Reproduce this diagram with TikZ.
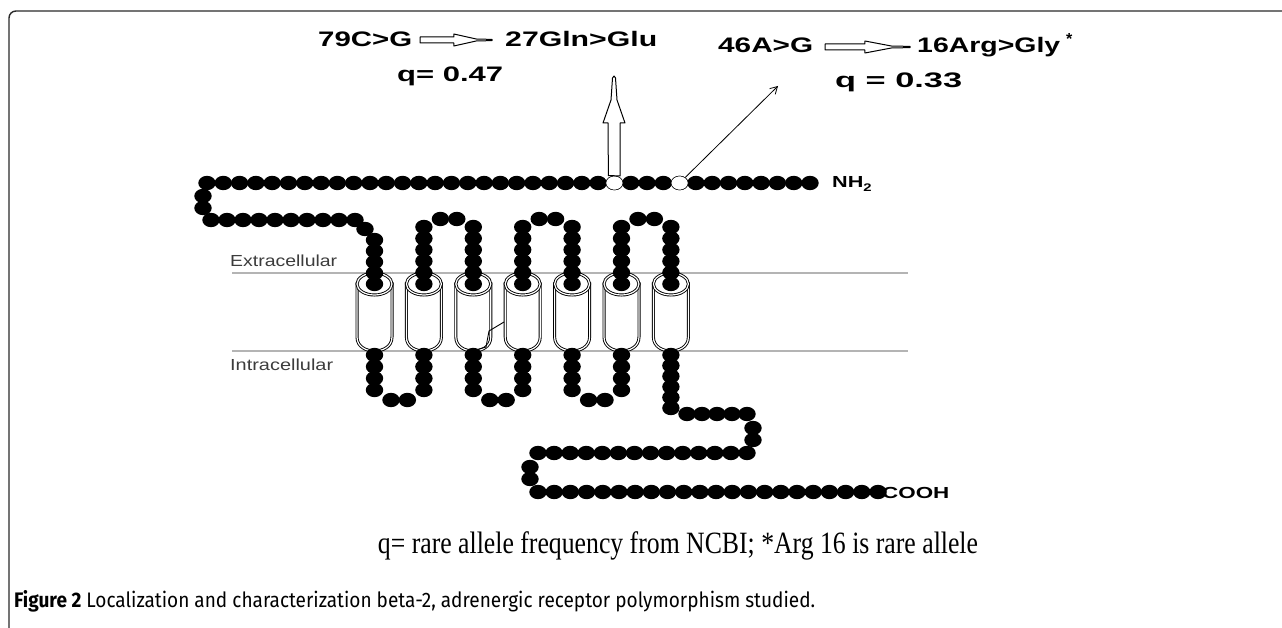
\documentclass[tikz,border=0pt]{standalone}
\usepackage{fontspec}
\setmainfont{Liberation Serif}
\setsansfont{Liberation Sans}
\newfontfamily\capfont{Fira Sans}
\usetikzlibrary{shapes.geometric,arrows.meta}
\definecolor{memgray}{HTML}{B4B4B4}
\definecolor{labgray}{HTML}{3C3C3C}
\definecolor{framegray}{HTML}{2A2A2A}
\newcommand\brow[4]{\foreach \k in {1,...,#4}{\pgfmathsetmacro\bx{#1+(#2-#1)/(#4-1)*(\k-1)}\fill[black] (\bx,#3) ellipse[x radius=8.7,y radius=7.2];}}
\newcommand\bcol[4]{\foreach \k in {1,...,#4}{\pgfmathsetmacro\by{#2+(#3-#2)/(#4-1)*(\k-1)}\fill[black] (#1,\by) ellipse[x radius=8.7,y radius=7.2];}}
\newcommand\bead[2]{\fill[black] (#1,#2) ellipse[x radius=8.7,y radius=7.2];}
\newcommand\harrow[3]{\path[hollow] (#1,{#3-3}) -- ({#1+0.47*(#2-#1)},{#3-3}) -- ({#1+0.47*(#2-#1)},{#3-6}) -- ({#1+0.78*(#2-#1)},{#3-1}) -- (#2,{#3-0.6}) -- (#2,{#3+0.6}) -- ({#1+0.78*(#2-#1)},{#3+1}) -- ({#1+0.47*(#2-#1)},{#3+6}) -- ({#1+0.47*(#2-#1)},{#3+3}) -- (#1,{#3+3}) -- cycle;}
\begin{document}
\begin{tikzpicture}[x=1pt,y=-1pt,
  lbl/.style={font=\sffamily\bfseries\fontsize{21}{21}\selectfont, inner sep=0, anchor=base west},
  smlbl/.style={font=\sffamily\bfseries\fontsize{16}{16}\selectfont, inner sep=0, anchor=base west},
  memlbl/.style={font=\sffamily\fontsize{16}{16}\selectfont, text=labgray, inner sep=0, anchor=base west},
  cylline/.style={draw=black, line width=0.9, double=white, double distance=1.2, fill=white},
  hollow/.style={draw=black, line width=1, fill=white, line join=round},
  memline/.style={draw=memgray, line width=1.2},
  snp/.style={ellipse, draw=black, line width=0.5, fill=white, minimum width=17, minimum height=14, inner sep=0},
  cylpic/.pic={
    \path[cylline] (-17.5,0) -- (-17.5,53) .. controls (-17.5,63) and (-8,67) .. (0,67) .. controls (8,67) and (17.5,63) .. (17.5,53) -- (17.5,0) -- cycle;
    \path[cylline] (0,0) ellipse[x radius=17.5, y radius=11];
  }
]
\useasboundingbox (0,0) rectangle (1282,628);
% frame
\draw[framegray, line width=1.4, rounded corners=7] (9,628) -- (9,11) -- (1282,11);
% membrane
\draw[memline] (232,273) -- (908,273);
\draw[memline] (232,351) -- (908,351);
\node[memlbl] (extra) at (230,267) {\resizebox{107pt}{\height}{Extracellular}};
\node[memlbl] (intra) at (230,370) {\resizebox{103pt}{\height}{Intracellular}};
% cylinders
\foreach \c in {374.5,423.9,473.3,522.7,572.1,621.5,670.9}{\pic at (\c,284) {cylpic};}
\draw[line width=0.9] (466,353) -- (486,347) -- (489,331) -- (504,322);
% chain
\brow{207}{810}{183}{38}
\bead{203}{196}\bead{203}{208}
\brow{211}{355}{220}{10}
\bead{365}{229}
\bcol{374.5}{240}{284}{5}
\bcol{423.9}{227}{284}{6}\bead{440.4}{219}\bead{456.8}{219}\bcol{473.3}{227}{284}{6}
\bcol{522.7}{227}{284}{6}\bead{539.2}{219}\bead{555.6}{219}\bcol{572.1}{227}{284}{6}
\bcol{621.5}{227}{284}{6}\bead{638}{219}\bead{654.4}{219}\bcol{670.9}{227}{284}{6}
\bcol{374.5}{355}{390}{4}\bead{391}{400}\bead{407.4}{400}\bcol{423.9}{355}{390}{4}
\bcol{473.3}{355}{390}{4}\bead{489.8}{400}\bead{506.2}{400}\bcol{522.7}{355}{390}{4}
\bcol{572.1}{355}{390}{4}\bead{588.6}{400}\bead{605}{400}\bcol{621.5}{355}{390}{4}
\bcol{670.9}{355}{408}{6}
\brow{687}{747}{414}{5}
\bead{753}{428}\bead{753}{440}
\brow{747}{538}{453}{14}
\bead{530}{467}\bead{530}{479}
\brow{538}{878}{492}{22}
% SNP beads
\node[snp] (snp1) at (614.4,183) {};
\node[snp] (snp2) at (679.6,183) {};
% end labels
\node[smlbl] (nh2) at (832,188) {\scalebox{1.35}[1]{NH\raisebox{-4pt}{\fontsize{11}{11}\selectfont 2}}};
\node[smlbl] (cooh) at (882,498) {\scalebox{1.4}[1]{COOH}};
% up arrow
\coordinate (uptip) at (614,76);
\path[hollow] (snp1.north) ++(-6,0) -- (608,123) -- (603,123) -- (611,100) -- (612.5,78) -- (uptip) -- (615.5,78) -- (617,100) -- (625,123) -- (620,123) -- (620,176) -- (snp1.north) -- cycle;
% diagonal arrow
\coordinate (dtip) at (778,86);
\draw[line width=0.8, -{Straight Barb[length=7,width=8]}] (snp2) -- (dtip);
% top labels
\node[lbl] (mut1) at (318,47) {\resizebox{94pt}{\height}{79C>G}};
\node[lbl] (aa1) at (505,47) {\resizebox{152pt}{\height}{27Gln>Glu}};
\node[lbl] (q1) at (397,82) {\resizebox{106pt}{\height}{q= 0.47}};
\node[lbl] (mut2) at (718,53) {\resizebox{95pt}{\height}{46A>G}};
\node[lbl] (aa2) at (917,53) {\resizebox{143pt}{\height}{16Arg>Gly}};
\node[lbl, font=\sffamily\bfseries\fontsize{16}{16}\selectfont] (star) at (1066,45) {*};
\node[lbl] (q2) at (835,88) {\resizebox{127pt}{\height}{q = 0.33}};
\harrow{420}{492}{40}
\harrow{825}{910}{47}
% captions
\node[font=\fontsize{31}{31}\selectfont, anchor=base, inner sep=0] (note) at (678,553) {\resizebox{600pt}{\height}{q= rare allele frequency from NCBI; *Arg 16 is rare allele}};
\node[font=\capfont\fontsize{21}{21}\selectfont, anchor=base west, inner sep=0] (cap) at (14,607) {\resizebox{801pt}{\height}{\textbf{Figure 2} Localization and characterization beta-2, adrenergic receptor polymorphism studied.}};
\end{tikzpicture}
\end{document}
